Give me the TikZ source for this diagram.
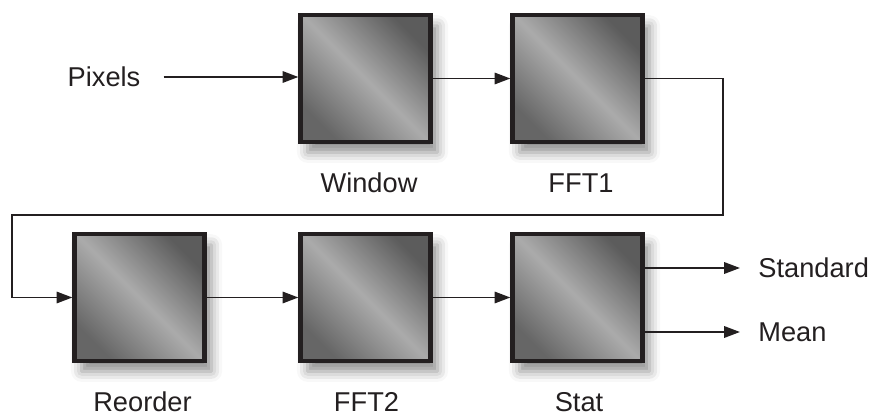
\documentclass[tikz,border=0pt]{standalone}
\usepackage{fontspec}
\setmainfont{Liberation Sans}
\usetikzlibrary{arrows.meta,shadows.blur}

\definecolor{ink}{RGB}{35,31,32}
\tikzset{
  block/.style={draw=ink, line width=2.4pt, minimum width=2.6cm, minimum height=2.53cm,
    inner sep=0pt, top color=black!64, bottom color=black!60, middle color=black!33,
    shading angle=-45,
    blur shadow={shadow xshift=4pt, shadow yshift=-6pt, shadow blur radius=6pt, shadow opacity=45}},
  lbl/.style={font=\fontsize{15.5}{18}\selectfont, text=ink, inner sep=2pt},
  flow/.style={draw=ink, line width=1.1pt, -{Triangle[length=9pt,width=6.5pt]}},
  wire/.style={draw=ink, line width=1.1pt}
}

\begin{document}
\begin{tikzpicture}
        \useasboundingbox (0,0) rectangle (17.4,8.34);

        \node[block] at (7.31,6.77) (win) {};
        \node[block] at (11.55,6.77) (fft1) {};
        \node[block] at (2.79,2.39) (reord) {};
        \node[block] at (7.31,2.39) (fft2) {};
        \node[block] at (11.55,2.39) (stat) {};

        \node[lbl] at (2.08,6.80) (pix) {Pixels};
        \node[lbl, anchor=base] at (7.38,4.48) (winname) {Window};
        \node[lbl, anchor=base] at (11.62,4.48) (fft1name) {FFT1};
        \node[lbl, anchor=base] at (2.85,0.12) (reordname) {Reorder};
        \node[lbl, anchor=base] at (7.33,0.12) (fft2name) {FFT2};
        \node[lbl, anchor=base] at (11.58,0.12) (statname) {Stat};
        \node[lbl, anchor=west] at (15.09,2.98) (std) {Standard};
        \node[lbl, anchor=west] at (15.09,1.70) (mean) {Mean};

        \coordinate (turnA) at (14.46,4.04);
        \coordinate (turnB) at (0.24,4.04);

        \draw[flow, shorten <=0.39cm] (pix.east) -- (pix.east -| win.west);
        \draw[flow] (win.east) -- (fft1.west);
        \draw[flow] (fft1.east) -| (turnA) -- (turnB) |- (reord.west);
        \draw[flow] (reord.east) -- (fft2.west);
        \draw[flow] (fft2.east) -- (stat.west);
        \draw[flow, shorten >=0.29cm] (stat.east |- std.west) -- (std.west);
        \draw[flow, shorten >=0.29cm] (stat.east |- mean.west) -- (mean.west);

    \end{tikzpicture}
\end{document}
